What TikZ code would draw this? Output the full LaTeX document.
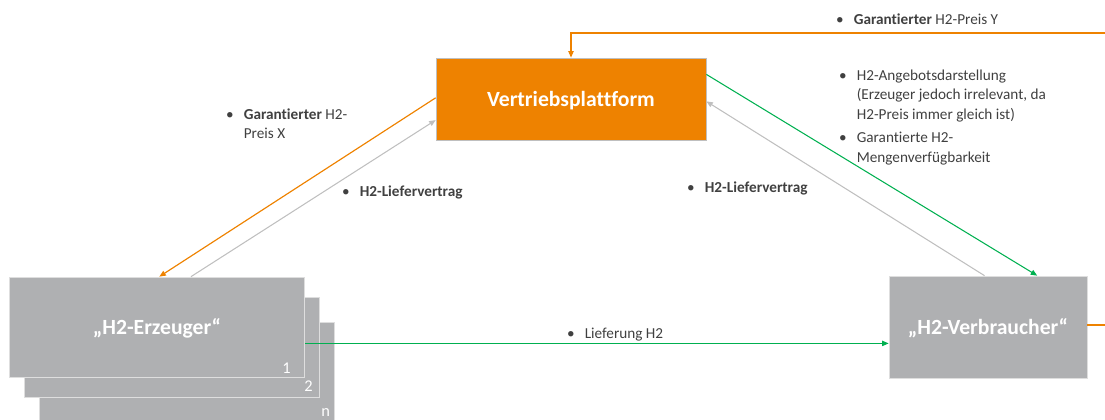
\documentclass[tikz,border=0pt]{standalone}
\usepackage{fontspec}
\setmainfont{Carlito}[Ligatures=NoCommon]
\usetikzlibrary{arrows.meta}

\definecolor{vporange}{RGB}{238,130,0}
\definecolor{boxgray}{RGB}{175,176,178}
\definecolor{boxline}{RGB}{222,222,222}
\definecolor{linegreen}{RGB}{0,176,80}
\definecolor{linegray}{RGB}{191,191,191}
\definecolor{textgray}{RGB}{64,64,64}

% bullet list inside a label node
\newcommand{\bulletlist}[1]{\begin{tabular}[t]{@{}p{15pt}@{}l@{}}#1\end{tabular}}

\begin{document}
\begin{tikzpicture}[x=0.03cm,y=-0.03cm,
    >={Triangle[length=5.5pt,width=4.5pt]},
    orangeline/.style={draw=vporange, line width=1pt},
    greenline/.style={draw=linegreen, line width=0.9pt},
    grayline/.style={draw=linegray, line width=0.9pt}]

  \useasboundingbox (0,0) rectangle (1105,419);

  % boxes
  \begin{scope}[every node/.style={rectangle, draw=boxline, line width=0.6pt, fill=boxgray,
      text=white, font=\fontsize{18.5}{22}\selectfont\bfseries, text depth=1pt}]
    \node[minimum width=8.85cm, minimum height=3cm] (erz3) at (186.5,372) {};
    \node[minimum width=8.85cm, minimum height=3cm] (erz2) at (172,347) {};
    \node[minimum width=8.85cm, minimum height=3cm] (erz1) at (157,327) {„H2-Erzeuger“};
    \node[minimum width=5.94cm, minimum height=3.06cm] (vb) at (988,327) {„H2-Verbraucher“};
    \node[fill=vporange, draw=linegray, minimum width=8.1cm, minimum height=2.46cm] (vp)
      at (571,99) {Vertriebsplattform};
  \end{scope}

  % numbers of the stacked boxes
  \begin{scope}[every node/.style={anchor=base east, inner sep=0pt, text=white,
      font=\fontsize{14}{16}\selectfont}]
    \node (num1) at ([xshift=-12pt,yshift=3.5pt]erz1.south east) {1};
    \node (num2) at ([xshift=-6pt,yshift=5pt]erz2.south east) {2};
    \node (numn) at ([xshift=-3.5pt,yshift=5pt]erz3.south east) {n};
  \end{scope}

  % connectors
  \coordinate (yin) at (1105,33);
  \coordinate (yout) at (1105,325);

  \draw[orangeline,->] (yin) -| (vp.north);
  \draw[orangeline,->] ([yshift=1pt]vp.west) -- ([xshift=2pt]erz1.north);
  \draw[grayline,->] ([xshift=29pt]erz1.north) -- ([yshift=-18pt]vp.west);
  \draw[greenline,->] ([yshift=21pt]vp.east) -- ([xshift=42pt]vb.north);
  \draw[grayline,->] ([xshift=-3pt]vb.north) -- ([yshift=-2pt]vp.east);
  \draw[greenline,->] ([yshift=-14pt]erz1.east) -- ([yshift=-14pt]erz1.east -| vb.west);
  \draw[orangeline] (vb.east |- yout) -- (yout);

  % labels
  \begin{scope}[every node/.style={anchor=base west, inner sep=0pt, text=textgray,
      font=\fontsize{13}{17}\selectfont}]
    \node (lblpreisy) at (836,24) {\bulletlist{\textbullet & \textbf{Garantierter} H2-Preis Y}};
    \node (lblangebot) at (839,80) {\bulletlist{
        \textbullet & H2-Angebotsdarstellung\\
        & (Erzeuger jedoch irrelevant, da\\
        & H2-Preis immer gleich ist)\\[2pt]
        \textbullet & Garantierte H2-\\
        & Mengenverfügbarkeit}};
    \node (lblpreisx) at (226,119) {\bulletlist{
        \textbullet & \textbf{Garantierter} H2-\\
        & Preis X}};
    \node (lblvertraglinks) at (342,196) {\bulletlist{\textbullet & \textbf{H2-Liefervertrag}}};
    \node (lblvertragrechts) at (687,192) {\bulletlist{\textbullet & \textbf{H2-Liefervertrag}}};
    \node (lbllieferung) at (567,338) {\bulletlist{\textbullet & Lieferung H2}};
  \end{scope}

\end{tikzpicture}
\end{document}
